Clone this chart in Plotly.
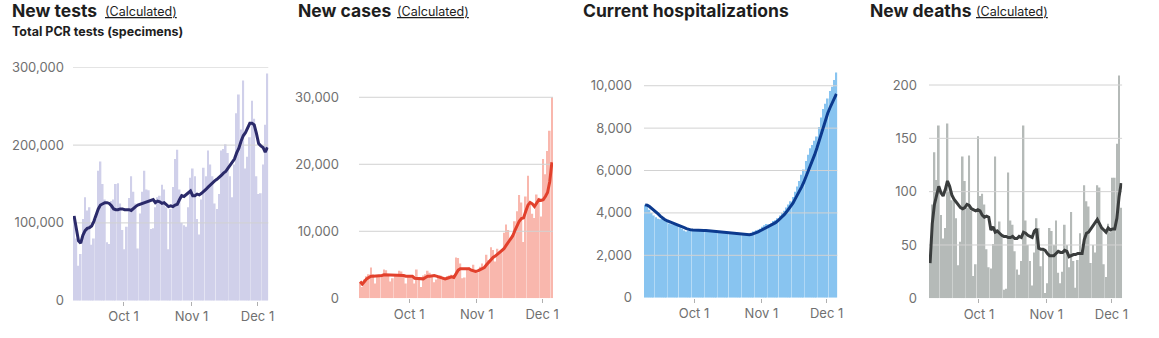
import pandas as pd
import plotly.graph_objects as go

# ---- data -------------------------------------------------------------
dates = pd.date_range("2020-09-08", "2020-12-05", freq="D")
x_range = ["2020-09-08", "2020-12-06"]
month_ticks = ["2020-10-01", "2020-11-01", "2020-12-01"]
month_labels = ["Oct 1", "Nov 1", "Dec 1"]

tests_daily = [
    108000, 80000, 45000, 60000, 105000, 133000, 116000, 120000, 72000, 80000,
    105000, 167000, 179000, 150000, 130000, 75000, 73000, 128000, 130000, 150000,
    151000, 125000, 91000, 66000, 95000, 132000, 160000, 140000, 125000, 67000,
    112000, 140000, 167000, 143000, 142000, 92000, 93000, 120000, 133000, 135000,
    149000, 143000, 120000, 66000, 118000, 146000, 182000, 194000, 143000, 100000,
    97000, 95000, 120000, 158000, 170000, 160000, 105000, 85000, 130000, 171000,
    160000, 193000, 175000, 160000, 125000, 118000, 137000, 193000, 195000, 201000,
    190000, 160000, 133000, 175000, 241000, 265000, 220000, 283000, 170000, 185000,
    210000, 257000, 234000, 160000, 137000, 138000, 175000, 226000, 292000,
]
tests_avg = [
    109000, 92000, 77000, 74000, 84000, 90000, 93000, 94000, 96000, 102000,
    110000, 118000, 123000, 125000, 126000, 126000, 125000, 122000, 118000, 117000,
    117000, 118000, 118000, 117000, 117000, 117000, 116000, 119000, 121000, 123000,
    124000, 125000, 126000, 127000, 128000, 128000, 130000, 126000, 128000, 127000,
    125000, 126000, 123000, 121000, 122000, 121000, 123000, 124000, 130000, 135000,
    134000, 136000, 138000, 141000, 135000, 135000, 137000, 136000, 138000, 140000,
    143000, 146000, 149000, 152000, 154000, 156000, 158000, 161000, 164000, 166000,
    170000, 174000, 178000, 182000, 190000, 196000, 205000, 212000, 216000, 222000,
    228000, 228000, 226000, 215000, 202000, 199000, 197000, 191000, 197000,
]

cases_daily = [
    2300, 1700, 2800, 3300, 3600, 4600, 3600, 2200, 3200, 3400,
    3300, 4300, 4200, 3500, 2500, 3000, 3500, 3400, 4100, 4000,
    3500, 2200, 3200, 3300, 3400, 2200, 4300, 3000, 1700, 3400,
    3600, 4100, 3800, 3400, 2400, 2800, 3300, 3400, 3000, 2800,
    3300, 3400, 3500, 3300, 6100, 6000, 5200, 3000, 3100, 4500,
    4600, 4300, 5000, 4000, 3800, 4700, 5200, 4500, 6500, 5700,
    7600, 7200, 5500, 7400, 6900, 7200, 9800, 11000, 10200, 8500,
    9500, 11500, 13000, 15400, 14300, 8400, 15200, 18300, 14300, 12600,
    12000, 15500, 15000, 12200, 20800, 18500, 22000, 25000, 30000,
]
cases_avg = [
    2500, 2100, 2500, 2900, 3100, 3300, 3300, 3300, 3400, 3400,
    3400, 3500, 3500, 3500, 3500, 3500, 3500, 3500, 3400, 3400,
    3400, 3300, 3300, 3300, 3300, 3000, 3000, 3000, 2900, 2900,
    3100, 3300, 3300, 3400, 3400, 3300, 3200, 3000, 2900, 2900,
    3000, 3100, 3200, 3100, 3600, 4200, 4400, 4400, 4400, 4500,
    4400, 4200, 4100, 4000, 4100, 4300, 4500, 4600, 5000, 5400,
    5800, 6100, 6300, 6600, 6800, 7100, 7400, 7900, 8400, 8800,
    9300, 10100, 10900, 11500, 11900, 12000, 13000, 13900, 14300, 14100,
    13700, 14200, 14700, 14600, 14700, 15200, 15800, 17400, 20300,
]

hosp_daily = [
    4380, 4300, 4150, 4000, 3880, 3800, 3720, 3700, 3720, 3650,
    3600, 3500, 3460, 3450, 3450, 3380, 3320, 3250, 3170, 3120,
    3170, 3200, 3180, 3160, 3150, 3150, 3160, 3150, 3140, 3140,
    3130, 3120, 3100, 3080, 3070, 3060, 3050, 3040, 3030, 3020,
    3010, 3000, 3000, 2990, 2980, 2980, 2970, 2980, 3000, 3050,
    3120, 3180, 3200, 3250, 3350, 3420, 3480, 3470, 3500, 3620,
    3650, 3750, 3880, 4000, 4100, 4250, 4400, 4550, 4750, 5000,
    5250, 5500, 5800, 6050, 6450, 6750, 7050, 7200, 7400, 7600,
    8050, 8500, 8900, 9150, 9400, 9750, 9950, 10270, 10630,
]
hosp_avg = [
    4380, 4360, 4300, 4220, 4130, 4040, 3950, 3850, 3760, 3690,
    3640, 3600, 3550, 3520, 3490, 3450, 3420, 3370, 3310, 3260,
    3220, 3200, 3190, 3180, 3180, 3170, 3170, 3170, 3170, 3160,
    3150, 3140, 3120, 3100, 3090, 3080, 3070, 3060, 3050, 3040,
    3030, 3020, 3010, 3000, 3000, 2990, 2980, 2970, 2970, 2990,
    3020, 3060, 3110, 3160, 3210, 3260, 3310, 3360, 3410, 3470,
    3540, 3620, 3710, 3810, 3920, 4040, 4170, 4310, 4460, 4650,
    4830, 5020, 5230, 5450, 5700, 5950, 6200, 6450, 6750, 7050,
    7400, 7750, 8100, 8400, 8700, 8950, 9150, 9380, 9620,
]

deaths_daily = [
    33, 88, 137, 111, 162, 78, 56, 66, 164, 100,
    92, 92, 75, 31, 53, 133, 110, 85, 134, 82,
    21, 32, 152, 96, 98, 88, 46, 29, 28, 51,
    133, 65, 72, 60, 8, 9, 118, 73, 69, 44,
    27, 22, 35, 162, 73, 50, 35, 12, 43, 75,
    66, 30, 46, 5, 14, 66, 63, 50, 73, 24,
    14, 25, 69, 50, 29, 81, 35, 10, 36, 61,
    45, 106, 91, 86, 33, 50, 43, 106, 104, 66,
    32, 20, 70, 62, 113, 113, 145, 209, 85,
]
deaths_avg = [
    33, 70, 88, 98, 105, 99, 96, 102, 110, 105,
    97, 93, 90, 88, 85, 84, 85, 88, 87, 84,
    83, 82, 83, 82, 78, 76, 77, 76, 64, 67,
    62, 63, 61, 59, 58, 58, 57, 57, 58, 56,
    56, 58, 57, 62, 61, 59, 58, 57, 63, 65,
    47, 46, 46, 45, 42, 40, 40, 40, 42, 44,
    43, 43, 45, 44, 39, 40, 41, 41, 42, 42,
    42, 55, 61, 62, 65, 68, 72, 74, 70, 66,
    64, 62, 66, 64, 65, 65, 75, 95, 108,
]

tests_grid = [100000, 200000, 300000]
cases_grid = [10000, 20000, 30000]
hosp_grid = [2000, 4000, 6000, 8000, 10000]
deaths_grid = [50, 100, 150, 200]

# ---- figure geometry (pixels) ----------------------------------------
W, H = 1159, 338
FONT = "Inter, Liberation Sans, sans-serif"
TICK_GRAY = "#707070"
GRID = "#d2d2d2"
DAY_MS = 86400000


def px_x(p):
    return p / W


def px_y(p):
    return 1 - p / H


panels = [
    dict(daily=tests_daily, avg=tests_avg, grid=tests_grid,
         bar="#d0d0ea", line="#2b2a6a",
         xdom=(73, 268.5), ydom=(300.7, 67.3), yrange=(0, 300000),
         ticks=[0] + tests_grid, standoff=8),
    dict(daily=cases_daily, avg=cases_avg, grid=cases_grid,
         bar="#f9b7ad", line="#e2402c",
         xdom=(359, 553), ydom=(298.3, 94.6), yrange=(0, 30400),
         ticks=[0] + cases_grid, standoff=19),
    dict(daily=hosp_daily, avg=hosp_avg, grid=hosp_grid,
         bar="#88c4f0", line="#0c3a8e",
         xdom=(644, 837.5), ydom=(297.7, 70.9), yrange=(0, 10700),
         ticks=[0] + hosp_grid, standoff=11),
    dict(daily=deaths_daily, avg=deaths_avg, grid=deaths_grid,
         bar="#b5bab8", line="#3a3d3d",
         xdom=(929, 1122.3), ydom=(298.3, 72.2), yrange=(0, 212),
         ticks=[0] + deaths_grid, standoff=11),
]

fig = go.Figure()
layout = {}

for i, p in enumerate(panels, start=1):
    sfx = "" if i == 1 else str(i)
    xa, ya = "x" + sfx, "y" + sfx

    # daily bars, each covering its calendar day
    fig.add_trace(go.Bar(
        x=dates, y=p["daily"], xaxis=xa, yaxis=ya,
        xperiod=DAY_MS, xperiodalignment="middle",
        marker=dict(color=p["bar"], line=dict(width=0)),
        hoverinfo="x+y",
    ))
    # horizontal gridlines drawn over the bars
    for g in p["grid"]:
        fig.add_trace(go.Scatter(
            x=x_range, y=[g, g], xaxis=xa, yaxis=ya, mode="lines",
            line=dict(color=GRID, width=1), hoverinfo="skip",
        ))
    # 7-day average
    fig.add_trace(go.Scatter(
        x=dates, y=p["avg"], xaxis=xa, yaxis=ya, mode="lines",
        xperiod=DAY_MS, xperiodalignment="middle",
        line=dict(color=p["line"], width=3),
        hoverinfo="x+y",
    ))

    layout["xaxis" + sfx] = dict(
        domain=[px_x(p["xdom"][0]), px_x(p["xdom"][1])],
        anchor=ya, type="date", range=x_range, automargin=False,
        tickvals=month_ticks, ticktext=month_labels,
        ticks="outside", ticklen=4, tickcolor="#b0b0b0", tickwidth=1,
        tickfont=dict(family=FONT, size=13, color=TICK_GRAY),
        showgrid=False, zeroline=False, showline=False, fixedrange=True,
    )
    layout["yaxis" + sfx] = dict(
        domain=[px_y(p["ydom"][0]), px_y(p["ydom"][1])],
        anchor=xa, range=list(p["yrange"]), automargin=False,
        tickvals=p["ticks"], tickformat=",d",
        ticks="", ticklabelstandoff=p["standoff"],
        tickfont=dict(family=FONT, size=13, color=TICK_GRAY),
        showgrid=False, zeroline=False, showline=False, fixedrange=True,
    )

# ---- titles -----------------------------------------------------------
TITLE = "#1e1e1e"


def label(text, x, y, size, bold=False, underline=False):
    t = text
    if bold:
        t = "<b>" + t + "</b>"
    if underline:
        t = "<u>" + t + "</u>"
    return dict(
        text=t, x=px_x(x), y=px_y(y), xref="paper", yref="paper",
        xanchor="left", yanchor="middle", showarrow=False,
        font=dict(family=FONT, size=size, color=TITLE), borderpad=0,
    )


annotations = [
    label("New tests", 11, 10, 17.5, bold=True),
    label("(Calculated)", 104, 11, 12.5, underline=True),
    label("Total PCR tests (specimens)", 11, 31, 12.5, bold=True),
    label("New cases", 297, 10, 17.5, bold=True),
    label("(Calculated)", 396, 11, 12.5, underline=True),
    label("Current hospitalizations", 582, 10, 17.5, bold=True),
    label("New deaths", 869, 10, 17.5, bold=True),
    label("(Calculated)", 975, 11, 12.5, underline=True),
]

fig.update_layout(
    **layout,
    annotations=annotations,
    width=W, height=H,
    margin=dict(l=0, r=0, t=0, b=0, autoexpand=False),
    paper_bgcolor="white", plot_bgcolor="white",
    showlegend=False, bargap=0.2,
    font=dict(family=FONT),
)

fig.write_html("out.html", config={"displayModeBar": False})
